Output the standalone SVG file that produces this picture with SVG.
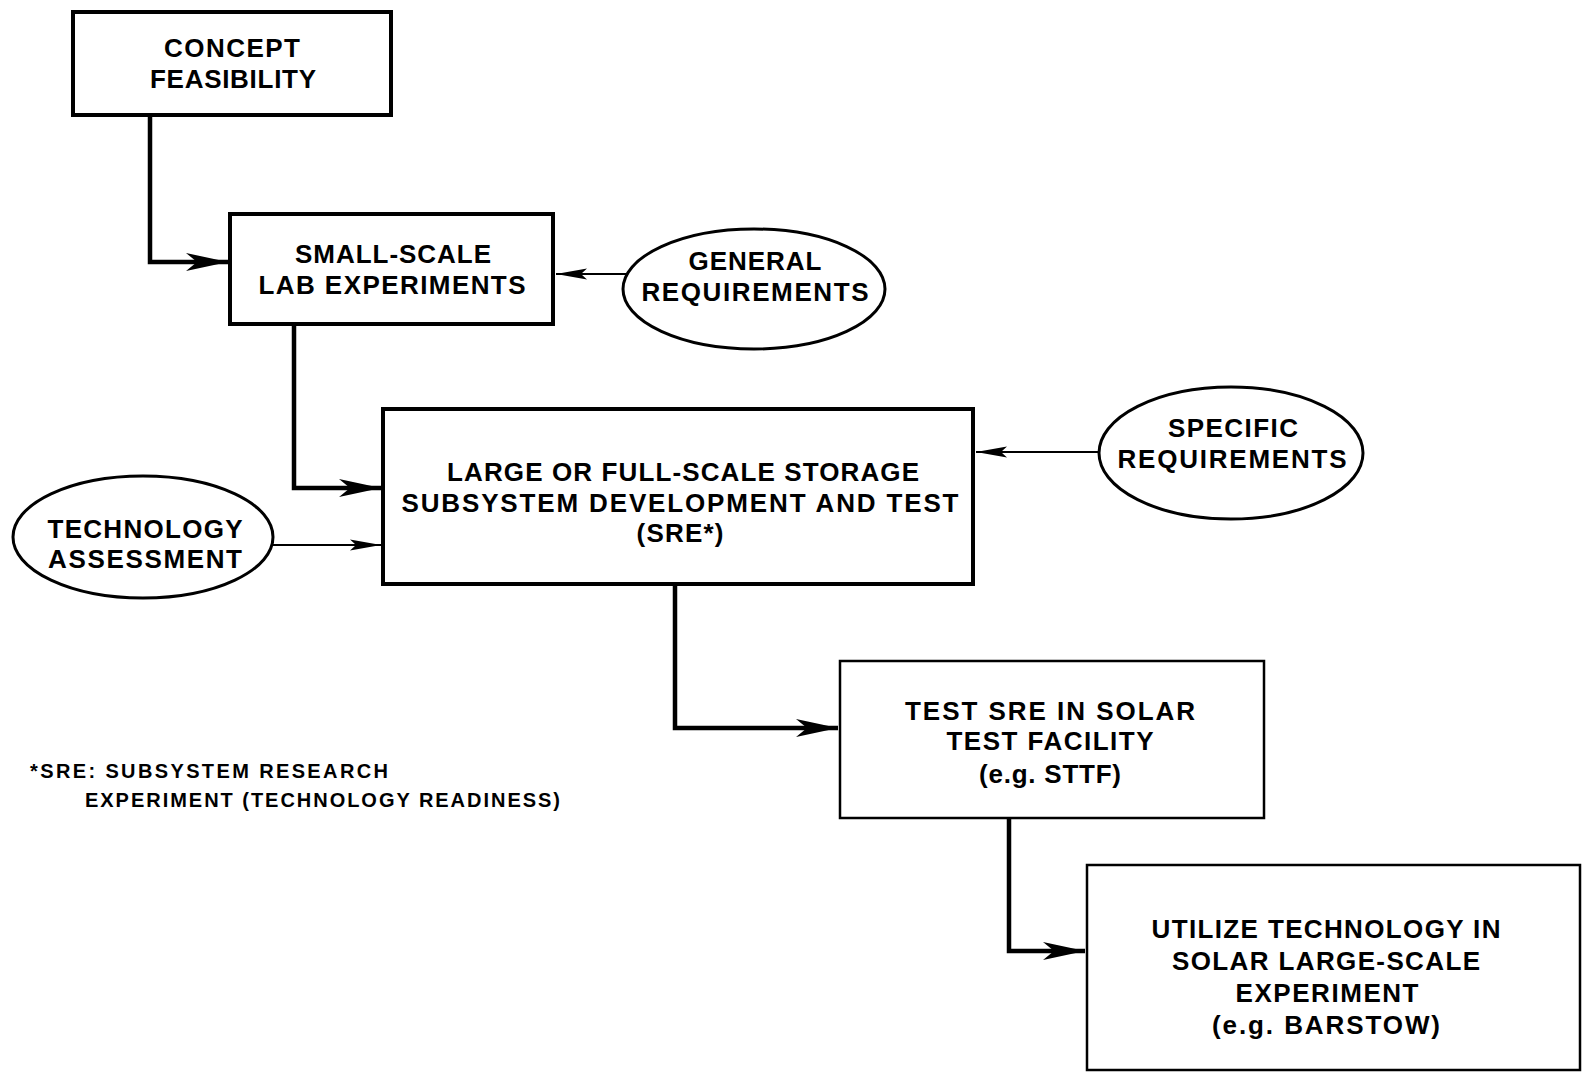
<svg xmlns="http://www.w3.org/2000/svg" width="1582" height="1081" viewBox="0 0 1582 1081">
<style>
  .bg{fill:#ffffff}
  .box{fill:#ffffff;stroke:#000;stroke-width:4}
  .box2{fill:#ffffff;stroke:#000;stroke-width:2.5}
  .ell{fill:#ffffff;stroke:#000;stroke-width:3}
  .t{font-family:"Liberation Sans",Arial,sans-serif;font-size:26px;font-weight:bold;fill:#000;text-anchor:middle}
  .fn{font-family:"Liberation Sans",Arial,sans-serif;font-size:20px;font-weight:bold;fill:#000}
  .thick{fill:none;stroke:#000;stroke-width:4.5}
  .thin{fill:none;stroke:#000;stroke-width:2}
</style>
<defs>
  <marker id="bigArrow" markerUnits="userSpaceOnUse" markerWidth="46" markerHeight="22" refX="42" refY="11" orient="auto" viewBox="0 0 46 22">
    <path d="M0,2 L42,11 L0,20 L11,11 Z" fill="#000"/>
  </marker>
  <marker id="smallArrow" markerUnits="userSpaceOnUse" markerWidth="34" markerHeight="14" refX="31" refY="7" orient="auto" viewBox="0 0 34 14">
    <path d="M0,1.5 L31,7 L0,12.5 L6,7 Z" fill="#000"/>
  </marker>
</defs>
<rect class="bg" x="0" y="0" width="1582" height="1081"/>

<g id="connectors">
  <path class="thick" d="M150,114 V262 H228" marker-end="url(#bigArrow)"/>
  <path class="thin" d="M642,274 H556" marker-end="url(#smallArrow)"/>
  <path class="thick" d="M294,326 V488 H381" marker-end="url(#bigArrow)"/>
  <path class="thin" d="M273,545 H381" marker-end="url(#smallArrow)"/>
  <path class="thin" d="M1099,452 H976" marker-end="url(#smallArrow)"/>
  <path class="thick" d="M675,585 V728 H838" marker-end="url(#bigArrow)"/>
  <path class="thick" d="M1009,818 V951 H1085" marker-end="url(#bigArrow)"/>
</g>

<g id="concept-feasibility">
  <rect class="box" x="73" y="12" width="318" height="103"/>
  <text class="t" x="232" y="57" textLength="136" lengthAdjust="spacing">CONCEPT</text>
  <text class="t" x="233" y="88" textLength="166" lengthAdjust="spacing">FEASIBILITY</text>
</g>

<g id="small-scale-lab">
  <rect class="box" x="230" y="214" width="323" height="110"/>
  <text class="t" x="393" y="263" textLength="196" lengthAdjust="spacing">SMALL-SCALE</text>
  <text class="t" x="392" y="294" textLength="267" lengthAdjust="spacing">LAB EXPERIMENTS</text>
</g>

<g id="general-requirements">
  <ellipse class="ell" cx="754" cy="289" rx="131" ry="60"/>
  <text class="t" x="755" y="270" textLength="133" lengthAdjust="spacing">GENERAL</text>
  <text class="t" x="755" y="301" textLength="227" lengthAdjust="spacing">REQUIREMENTS</text>
</g>

<g id="large-scale-development">
  <rect class="box" x="383" y="409" width="590" height="175"/>
  <text class="t" x="683" y="481" textLength="472" lengthAdjust="spacing">LARGE OR FULL-SCALE STORAGE</text>
  <text class="t" x="680" y="512" textLength="557" lengthAdjust="spacing">SUBSYSTEM DEVELOPMENT AND TEST</text>
  <text class="t" x="680" y="542" textLength="87" lengthAdjust="spacing">(SRE*)</text>
</g>

<g id="technology-assessment">
  <ellipse class="ell" cx="143" cy="537" rx="130" ry="61"/>
  <text class="t" x="145" y="538" textLength="195" lengthAdjust="spacing">TECHNOLOGY</text>
  <text class="t" x="145" y="568" textLength="194" lengthAdjust="spacing">ASSESSMENT</text>
</g>

<g id="specific-requirements">
  <ellipse class="ell" cx="1231" cy="453" rx="132" ry="66"/>
  <text class="t" x="1233" y="437" textLength="130" lengthAdjust="spacing">SPECIFIC</text>
  <text class="t" x="1232" y="468" textLength="229" lengthAdjust="spacing">REQUIREMENTS</text>
</g>

<g id="test-sre-solar">
  <rect class="box2" x="840" y="661" width="424" height="157"/>
  <text class="t" x="1050" y="720" textLength="290" lengthAdjust="spacing">TEST SRE IN SOLAR</text>
  <text class="t" x="1050" y="750" textLength="207" lengthAdjust="spacing">TEST FACILITY</text>
  <text class="t" x="1050" y="783" textLength="142" lengthAdjust="spacing">(e.g. STTF)</text>
</g>

<g id="utilize-technology">
  <rect class="box2" x="1087" y="865" width="493" height="205"/>
  <text class="t" x="1326" y="938" textLength="349" lengthAdjust="spacing">UTILIZE TECHNOLOGY IN</text>
  <text class="t" x="1326" y="970" textLength="308" lengthAdjust="spacing">SOLAR LARGE-SCALE</text>
  <text class="t" x="1327" y="1002" textLength="183" lengthAdjust="spacing">EXPERIMENT</text>
  <text class="t" x="1326" y="1034" textLength="228" lengthAdjust="spacing">(e.g. BARSTOW)</text>
</g>

<g id="footnote">
  <text class="fn" x="30" y="778" textLength="358" lengthAdjust="spacing">*SRE: SUBSYSTEM RESEARCH</text>
  <text class="fn" x="85" y="807" textLength="475" lengthAdjust="spacing">EXPERIMENT (TECHNOLOGY READINESS)</text>
</g>
</svg>
